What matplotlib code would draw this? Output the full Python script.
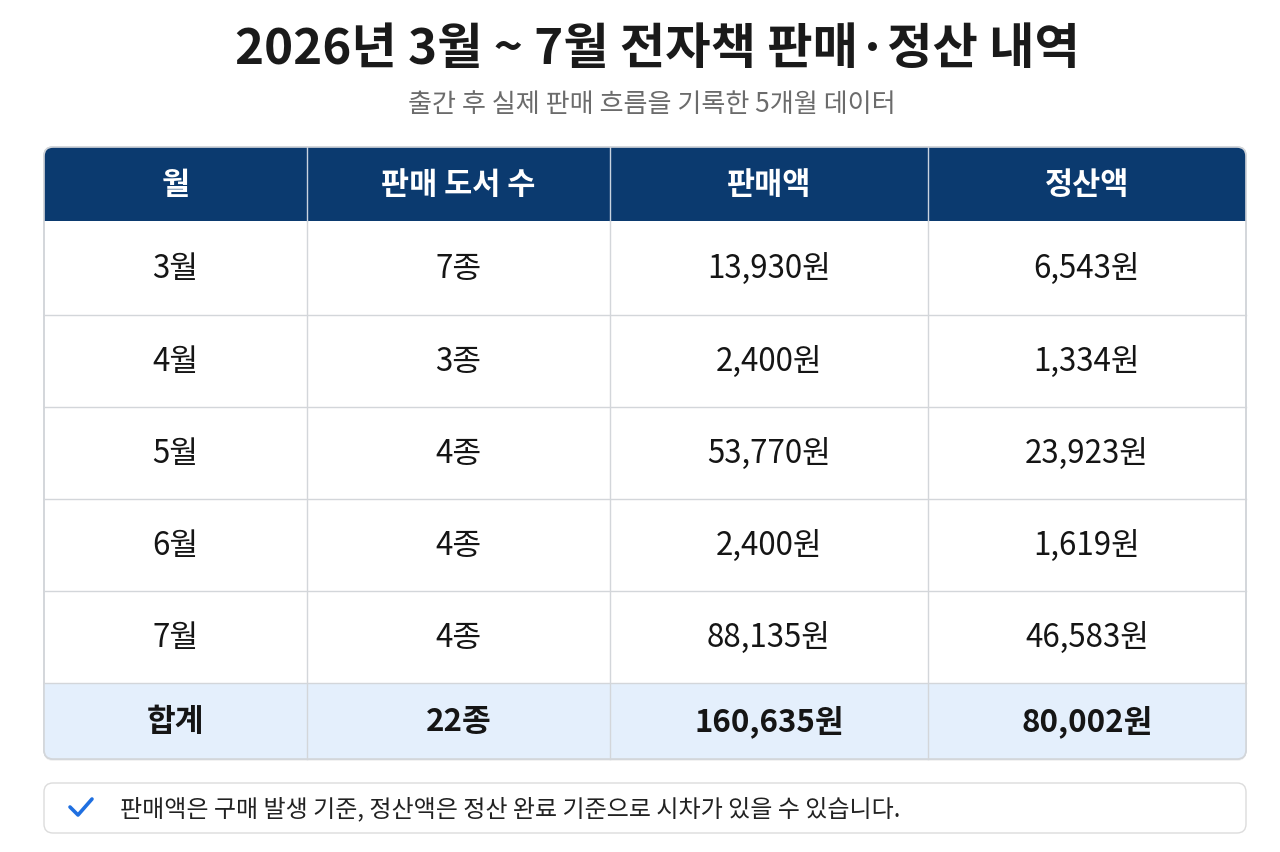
import matplotlib
matplotlib.use("Agg")
import matplotlib.pyplot as plt
from matplotlib.patches import FancyBboxPatch, Rectangle

plt.rcParams['font.family'] = ['Noto Sans CJK KR', 'DejaVu Sans']

title = "2026년 3월 ~ 7월 전자책 판매·정산 내역"
subtitle = "출간 후 실제 판매 흐름을 기록한 5개월 데이터"
headers = ["월", "판매 도서 수", "판매액", "정산액"]
months = ["3월", "4월", "5월", "6월", "7월"]
books = ["7종", "3종", "4종", "4종", "4종"]
sales = ["13,930원", "2,400원", "53,770원", "2,400원", "88,135원"]
settle = ["6,543원", "1,334원", "23,923원", "1,619원", "46,583원"]
total = ["합계", "22종", "160,635원", "80,002원"]
note = "판매액은 구매 발생 기준, 정산액은 정산 완료 기준으로 시차가 있을 수 있습니다."

W, H = 1280, 853
fig = plt.figure(figsize=(W / 100, H / 100), dpi=100)
ax = fig.add_axes([0, 0, 1, 1])
ax.set_xlim(0, W)
ax.set_ylim(H, 0)
ax.axis('off')

HEAD = "#0b3a6f"
TOT = "#e4effc"
GRID = "#d3d6da"
TXT = "#151515"

ax.text(657, 49, title, ha='center', va='center', fontsize=35.5, fontweight='bold', color="#1a1a1a")
ax.text(652, 104, subtitle, ha='center', va='center', fontsize=18.8, color="#6b6b6b")

x0, x1 = 44, 1246
col_edges = [44, 307, 610, 928, 1246]
hy0, hy1 = 148, 222
row_edges = [222, 316, 408, 500, 592, 684, 760]

# shadow
sh = FancyBboxPatch((x0, hy0 + 2), x1 - x0, row_edges[-1] - hy0, boxstyle="round,pad=0,rounding_size=9",
                    facecolor="#000000", alpha=0.05, edgecolor='none', zorder=0.5)
ax.add_patch(sh)
outer = FancyBboxPatch((x0, hy0), x1 - x0, row_edges[-1] - hy0, boxstyle="round,pad=0,rounding_size=9",
                       facecolor="white", edgecolor=GRID, linewidth=1.2, zorder=1)
ax.add_patch(outer)
clip = FancyBboxPatch((x0, hy0), x1 - x0, row_edges[-1] - hy0, boxstyle="round,pad=0,rounding_size=9",
                      facecolor="none", edgecolor='none')
ax.add_patch(clip)

hr = Rectangle((x0, hy0), x1 - x0, hy1 - hy0, facecolor=HEAD, edgecolor='none', zorder=2)
ax.add_patch(hr)
hr.set_clip_path(clip)
tr = Rectangle((x0, row_edges[-2]), x1 - x0, row_edges[-1] - row_edges[-2], facecolor=TOT, edgecolor='none', zorder=2)
ax.add_patch(tr)
tr.set_clip_path(clip)

# grid lines
for xe in col_edges[1:-1]:
    ax.plot([xe, xe], [hy0, hy1], color="#c9d3e0", lw=1.0, zorder=3)
    ax.plot([xe, xe], [hy1, row_edges[-1]], color=GRID, lw=1.0, zorder=3)
for ye in row_edges[1:-1]:
    ax.plot([x0, x1], [ye, ye], color=GRID, lw=1.0, zorder=3)
edge = FancyBboxPatch((x0, hy0), x1 - x0, row_edges[-1] - hy0, boxstyle="round,pad=0,rounding_size=9",
                      facecolor="none", edgecolor=GRID, linewidth=1.2, zorder=4)
ax.add_patch(edge)

centers = [(col_edges[i] + col_edges[i + 1]) / 2 for i in range(4)]
for c, h in zip(centers, headers):
    ax.text(c, (hy0 + hy1) / 2, h, ha='center', va='center', fontsize=22, fontweight='bold', color='white', zorder=5)

columns = [months, books, sales, settle]
for r in range(len(months)):
    yc = (row_edges[r] + row_edges[r + 1]) / 2
    for c, col in zip(centers, columns):
        ax.text(c, yc, col[r], ha='center', va='center', fontsize=22.5, color=TXT, zorder=5)

yc = (row_edges[-2] + row_edges[-1]) / 2
for c, t in zip(centers, total):
    ax.text(c, yc, t, ha='center', va='center', fontsize=22.5, fontweight='bold', color=TXT, zorder=5)

# note box
nb = FancyBboxPatch((x0, 784), x1 - x0, 50, boxstyle="round,pad=0,rounding_size=9",
                    facecolor="white", edgecolor="#dcdcdc", linewidth=1.0, zorder=1)
ax.add_patch(nb)
ax.plot([70, 78, 92], [808, 816, 800], color="#1f6fe0", lw=2.6, solid_capstyle='round',
        solid_joinstyle='round', zorder=5)
ax.text(120, 809, note, ha='left', va='center', fontsize=17.3, color="#222222", zorder=5)

fig.savefig("out.png", dpi=100, facecolor="white")
